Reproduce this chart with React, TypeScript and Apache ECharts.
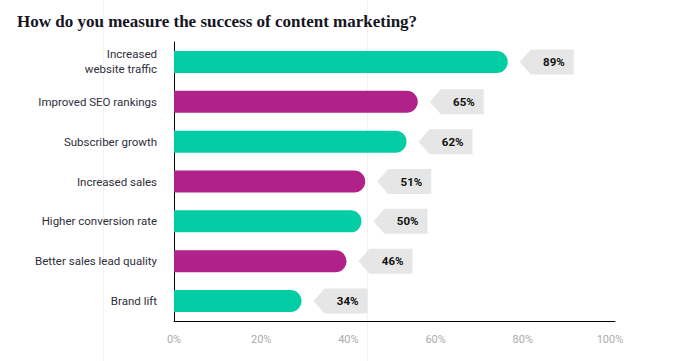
import React, { useEffect, useRef } from "react";
import * as echarts from "echarts";

const categories = [
  "Increased\nwebsite traffic",
  "Improved SEO rankings",
  "Subscriber growth",
  "Increased sales",
  "Higher conversion rate",
  "Better sales lead quality",
  "Brand lift",
];
const values = [89, 65, 62, 51, 50, 46, 34];
const barColors = ["#02cda4", "#b0228a", "#02cda4", "#b0228a", "#02cda4", "#b0228a", "#02cda4"];
const tickValues = [0, 20, 40, 60, 80, 100];
const titleText = "How do you measure the success of content marketing?";

export default function App() {
  const ref = useRef<HTMLDivElement>(null);
  useEffect(() => {
    if (!ref.current) return;
    const chart = echarts.init(ref.current, null, { renderer: "svg" });
    const option: any = {
      animation: false,
      backgroundColor: "#ffffff",
      title: {
        text: titleText,
        left: 12,
        top: 8,
        textStyle: {
          fontFamily: "Liberation Serif",
          fontWeight: "bold",
          fontSize: 17,
          color: "#15151f",
        },
      },
      graphic: [
        { type: "line", z: -10, shape: { x1: 103.5, y1: 0, x2: 103.5, y2: 361 }, style: { stroke: "#f2f2f2", lineWidth: 1 } },
        { type: "line", z: -10, shape: { x1: 367.5, y1: 0, x2: 367.5, y2: 361 }, style: { stroke: "#f2f2f2", lineWidth: 1 } },
      ],
      grid: { left: 174, right: 69, top: 42, bottom: 40, containLabel: false },
      xAxis: [
        {
          type: "value",
          min: 0,
          max: 101.15,
          interval: 20,
          axisLine: { show: true, lineStyle: { color: "#000", width: 1 } },
          axisTick: { show: false },
          splitLine: { show: false },
          axisLabel: {
            showMaxLabel: false,
            formatter: (v: number) => (tickValues.includes(v) ? v + "%" : ""),
            color: "#ababab",
            fontFamily: "Roboto",
            fontSize: 11,
            margin: 13,
          },
        },
        {
          type: "value",
          min: 0,
          max: 117.6,
          show: false,
          splitLine: { show: false },
        },
      ],
      yAxis: {
        type: "category",
        inverse: true,
        data: categories,
        axisLine: { show: true, lineStyle: { color: "#000", width: 1 } },
        axisTick: { show: false },
        splitLine: { show: false },
        axisLabel: {
          color: "#2e2e3a",
          fontFamily: "Roboto",
          fontSize: 11.5,
          margin: 17,
          lineHeight: 15,
        },
      },
      series: [
        {
          type: "bar",
          xAxisIndex: 1,
          barWidth: 22,
          data: values.map((v, i) => ({
            value: v,
            itemStyle: { color: barColors[i], borderRadius: [0, 11, 11, 0] },
          })),
        },
        {
          type: "custom",
          xAxisIndex: 1,
          yAxisIndex: 0,
          data: values.map((v, i) => [v, i]),
          renderItem: (params: any, api: any) => {
            const p = api.coord([api.value(0), api.value(1)]);
            const tip = p[0] + 12;
            const cy = p[1];
            const h = 12.5;
            return {
              type: "group",
              children: [
                {
                  type: "polygon",
                  shape: {
                    points: [
                      [tip, cy],
                      [tip + 11, cy - h],
                      [tip + 54, cy - h],
                      [tip + 54, cy + h],
                      [tip + 11, cy + h],
                    ],
                  },
                  style: { fill: "#e6e6e6" },
                },
                {
                  type: "text",
                  x: tip + 45,
                  y: cy,
                  style: {
                    text: api.value(0) + "%",
                    textAlign: "right",
                    textVerticalAlign: "middle",
                    fill: "#111",
                    font: "bold 11.5px Roboto",
                  },
                },
              ],
            };
          },
        },
      ],
    };
    chart.setOption(option);
    return () => chart.dispose();
  }, []);
  return (
    <div
      ref={ref}
      style={{ position: "fixed", left: 0, top: 0, width: 684, height: 361 }}
    />
  );
}
